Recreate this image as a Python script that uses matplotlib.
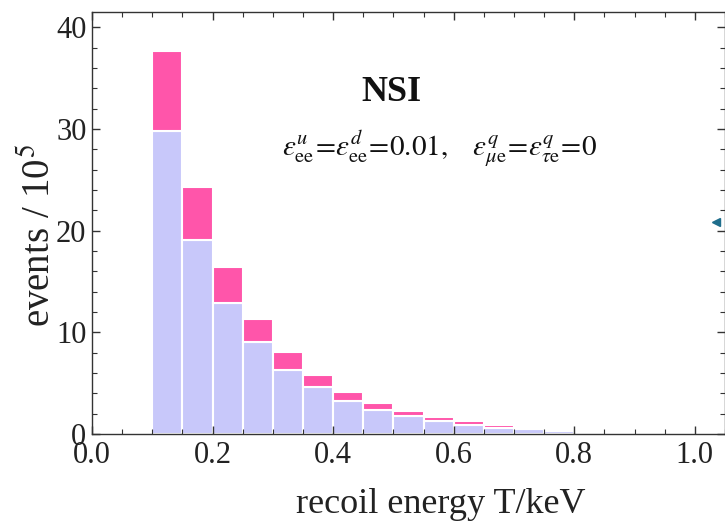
#Stacked histogram of recoil energy events (SM part + NSI excess)
import numpy as np
import matplotlib
matplotlib.use('Agg')
import matplotlib.pyplot as plt

plt.rcParams['font.family'] = ['Liberation Serif', 'DejaVu Serif']
plt.rcParams['mathtext.fontset'] = 'stix'

#bin left edges in keV, width 0.05
bin_left = [0.10, 0.15, 0.20, 0.25, 0.30, 0.35, 0.40, 0.45, 0.50, 0.55,
            0.60, 0.65, 0.70, 0.75, 0.80, 0.85, 0.90, 0.95, 1.00]
#lower (lavender) part
events_base = [29.8, 19.1, 12.9, 9.0, 6.3, 4.6, 3.25, 2.36, 1.74, 1.25,
               0.92, 0.62, 0.49, 0.33, 0.2, 0.15, 0.1, 0.06, 0.03]
#total height (pink top)
events_total = [37.7, 24.3, 16.4, 11.3, 8.1, 5.8, 4.17, 3.05, 2.27, 1.67,
                1.25, 0.92, 0.69, 0.53, 0.33, 0.25, 0.16, 0.1, 0.06]
events_extra = np.array(events_total) - np.array(events_base)

bin_width = 0.05
col_base = '#c8c8fa'
col_extra = '#ff55aa'

fig = plt.figure(figsize=(7.25, 5.25), dpi=100)
ax = fig.add_axes([92/725, 1 - 434/525, (725 - 92)/725, (434 - 12)/525])

ax.bar(bin_left, events_base, width=bin_width, align='edge', color=col_base,
       edgecolor='white', linewidth=1.5)
ax.bar(bin_left, events_extra, width=bin_width, bottom=events_base, align='edge',
       color=col_extra, edgecolor='white', linewidth=1.5)

ax.set_xlim(0, 1.05)
ax.set_ylim(0, 41.5)
ax.set_xticks([0.0, 0.2, 0.4, 0.6, 0.8, 1.0])
ax.set_xticklabels(['0.0', '0.2', '0.4', '0.6', '0.8', '1.0'])
ax.set_xticks(np.arange(0, 1.051, 0.05), minor=True)
ax.set_yticks([0, 10, 20, 30, 40])
ax.set_yticks(np.arange(0, 41, 2), minor=True)
ax.tick_params(which='both', direction='in', top=True, right=True, colors='#333333',
               labelcolor='#222222', labelsize=22)
ax.tick_params(which='major', length=6, width=1)
ax.tick_params(which='minor', length=3.5, width=0.8)
ax.tick_params(axis='x', pad=5)
ax.tick_params(axis='y', pad=4)
for s in ax.spines.values():
    s.set_color('#333333')
    s.set_linewidth(1)

ax.set_xlabel('recoil energy T/keV', fontsize=26, color='#222222', va='center')
ax.xaxis.set_label_coords(0.551, -0.168)
ax.set_ylabel('events / 10$^5$', fontsize=28, color='#222222', va='center')
ax.yaxis.set_label_coords(-0.082, 0.47)

ax.text(0.497, 33.6, 'NSI', fontsize=26, fontweight='bold', ha='center', va='center',
        color='#111111')
ax.text(0.577, 28.1,
        r'$\varepsilon^{u}_{\rm ee}\!=\!\varepsilon^{d}_{\rm ee}\!=\!0.01,\quad'
        r'\varepsilon^{q}_{\mu{\rm e}}\!=\!\varepsilon^{q}_{\tau{\rm e}}\!=\!0$',
        fontsize=21, ha='center', va='center', color='#111111')

#small arrow head from the neighbouring panel, cut off at the edge
ax.plot([1.035], [20.8], marker='<', color='#1f6e8c', markersize=6, clip_on=False)

fig.savefig('out.png', dpi=100)
